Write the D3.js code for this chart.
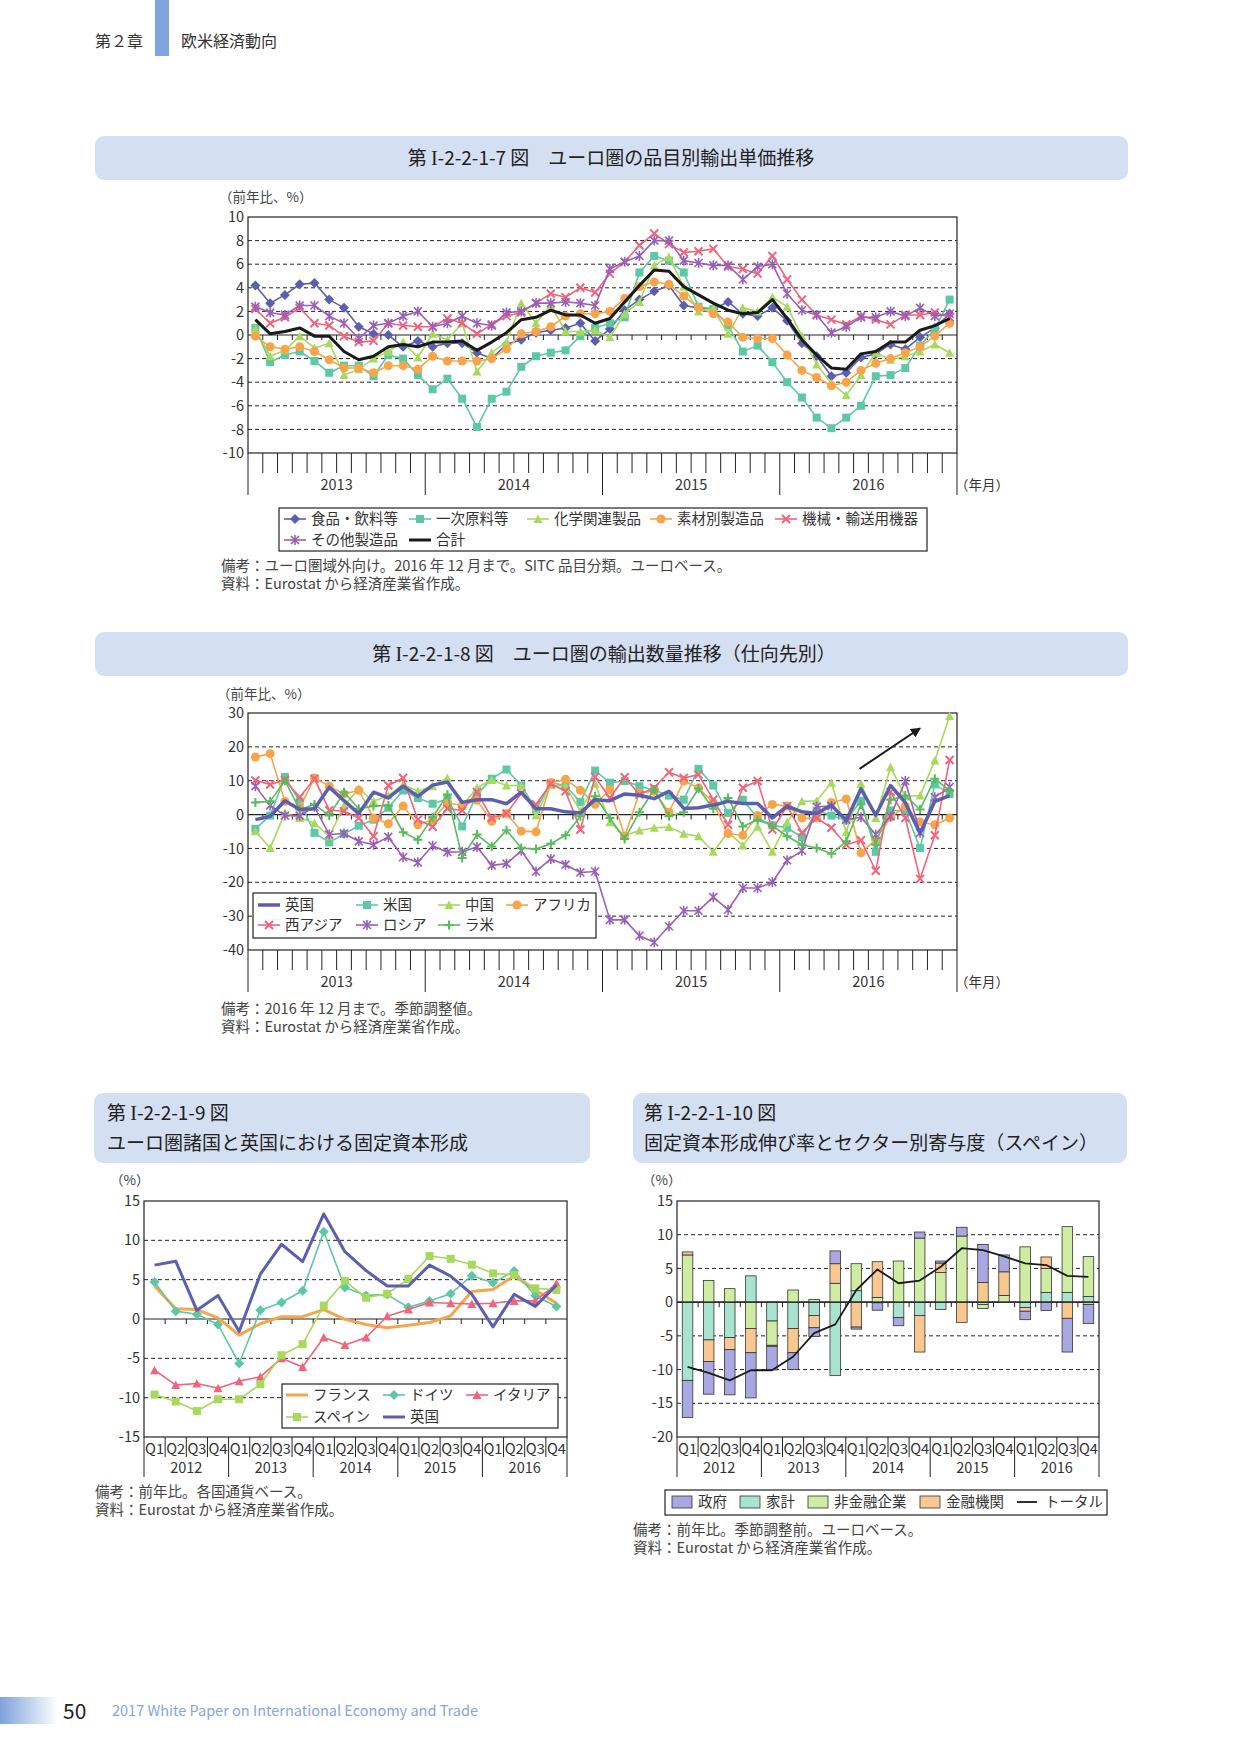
<!DOCTYPE html>
<html>
<head>
<meta charset="utf-8">
<script src="https://cdn.jsdelivr.net/npm/d3@7"></script>
<style>
body { margin: 0; background: #fff; }
svg text { font-family: "Noto Sans CJK JP", "Noto Sans", sans-serif; fill: #333; }
</style>
</head>
<body>
<svg id="page" width="1241" height="1754"></svg>
<script>
// ---- data: chart 7 (export unit price by product, monthly 2013-01..2016-12)
var years4 = ["2013", "2014", "2015", "2016"];
var priceFood = [4.2, 2.7, 3.4, 4.3, 4.4, 3.0, 2.3, 0.7, 0.1, 0.0, -1.0, -0.5, -1.0, -0.7, -0.7, -1.5, -2.0, -0.8, -0.4, 0.2, 0.4, 0.6, 1.0, -0.5,
  0.5, 2.1, 3.0, 3.7, 4.2, 2.5, 2.3, 2.2, 2.8, 1.8, 1.6, 2.3, 1.2, -0.7, -1.8, -3.5, -3.2, -1.9, -1.6, -0.8, -1.2, -0.2, 0.6, 1.8];
var pricePrimary = [0.6, -2.3, -1.7, -1.4, -2.2, -3.2, -2.6, -2.6, -3.5, -1.7, -2.0, -3.4, -4.6, -3.7, -5.4, -7.8, -5.4, -4.8, -2.7, -1.8, -1.5, -1.3, -0.1, 0.6,
  1.0, 1.5, 5.3, 6.7, 6.3, 5.3, 2.4, 2.2, 0.8, -1.4, -0.9, -2.3, -4.0, -5.3, -7.0, -7.9, -7.0, -6.0, -3.5, -3.4, -2.8, -0.9, 0.5, 3.0];
var priceChem = [0.5, -1.8, -1.3, -0.1, -1.1, -0.7, -3.4, -2.9, -2.0, -1.4, -0.6, -1.9, 0.1, -0.4, 1.0, -3.1, -1.5, -0.6, 2.7, 1.0, 2.5, 0.3, 0.3, 0.4,
  -0.2, 1.8, 2.8, 5.9, 6.6, 4.1, 2.0, 2.2, 0.1, 2.3, 2.0, 3.2, 2.4, -0.1, -2.5, -4.1, -5.1, -3.4, -1.5, -2.1, -1.8, -1.4, -0.8, -1.5];
var priceMaterial = [-0.1, -1.0, -1.2, -1.0, -1.4, -2.1, -2.8, -2.8, -3.2, -2.6, -2.6, -2.9, -1.8, -2.2, -2.2, -2.2, -2.0, -1.2, 0.1, 0.3, 0.7, 1.6, 1.8, 1.8,
  2.0, 3.1, 4.1, 4.5, 4.3, 3.3, 2.3, 1.8, 1.1, -0.2, -0.3, -0.3, -1.7, -3.0, -3.6, -4.3, -4.0, -3.0, -2.4, -2.0, -1.5, -1.0, -0.1, 1.0];
var priceMachine = [2.2, 1.0, 1.5, 2.3, 1.0, 0.8, -0.1, -0.6, -0.5, 1.0, 0.8, 0.7, 0.7, 1.4, 1.0, 0.1, 0.9, 1.6, 1.9, 2.7, 3.5, 3.2, 4.0, 3.6,
  5.2, 6.2, 7.6, 8.6, 7.7, 7.0, 7.1, 7.3, 5.8, 5.6, 5.2, 6.7, 4.7, 3.0, 1.7, 1.3, 0.9, 1.6, 1.3, 0.9, 1.7, 1.7, 1.9, 1.5];
var priceOther = [2.4, 1.9, 1.7, 2.5, 2.5, 1.6, 1.0, -0.3, 0.8, 1.0, 1.6, 2.0, 0.7, 1.0, 1.6, 1.0, 0.8, 1.9, 2.0, 2.7, 2.7, 2.8, 2.7, 2.5,
  5.6, 6.2, 6.7, 8.0, 8.0, 6.3, 6.1, 5.9, 5.9, 4.7, 5.8, 6.0, 3.5, 2.1, 1.7, 0.2, 0.7, 1.5, 1.5, 2.0, 1.6, 2.3, 1.6, 1.8];
var priceTotal = [1.3, 0.1, 0.3, 0.6, -0.1, -0.1, -1.4, -2.1, -1.8, -1.0, -0.8, -1.0, -0.6, -0.6, -0.5, -1.3, -0.6, 0.2, 1.3, 1.5, 2.1, 1.7, 1.7, 1.0,
  1.4, 2.8, 4.2, 5.5, 5.4, 4.1, 3.4, 2.7, 2.1, 1.8, 1.9, 3.0, 1.4, -0.4, -1.7, -2.8, -2.9, -1.6, -1.4, -0.6, -0.6, 0.4, 0.8, 1.4];
var priceTicks = [10, 8, 6, 4, 2, 0, -2, -4, -6, -8, -10];

// ---- data: chart 8 (export volume by destination)
var volUK = [-1.5, -0.5, 4.1, 1.5, 1.7, 8.1, 4.1, 0.3, 6.6, 4.9, 8.4, 5.4, 8.7, 9.6, 3.6, 4.4, 4.4, 3.2, 6.6, 1.7, 1.7, 0.8, 0.5, 4.4,
  4.1, 6.1, 5.7, 4.7, 6.9, 1.8, 2.0, 2.8, 3.9, 3.3, 3.3, -1.0, 2.5, 0.8, 0.3, 2.8, -1.8, 7.6, -0.2, 8.6, 3.5, -5.6, 3.9, 5.6];
var volUS = [-4.2, -0.3, 11.1, 3.9, -5.4, -8.2, -5.7, -3.3, -1.5, 2.0, 7.1, 4.9, 3.2, 4.6, -3.5, 5.9, 10.6, 13.3, 8.6, 1.5, 9.4, 8.6, 3.7, 13.0,
  9.4, 9.9, 8.4, 7.2, 5.6, 4.4, 13.5, 8.6, 0.5, 4.4, -1.0, -3.2, -3.9, -6.7, 1.2, -0.3, -1.7, 4.1, -11.0, 1.2, 1.2, -9.9, 8.9, 6.1];
var volChina = [-4.9, -9.9, 0.5, -1.0, -2.5, -6.4, 2.5, 7.6, 3.9, 5.6, 8.9, 6.9, 8.4, 10.8, 2.5, 7.9, 10.2, 8.6, 8.6, -0.2, 8.7, 8.4, 1.0, 9.1,
  -2.3, -6.2, -4.7, -3.9, -3.7, -5.7, -6.4, -11.0, -5.2, -9.1, -3.5, -11.0, -2.3, 3.9, 4.1, 9.4, -5.2, 9.1, -1.0, 14.0, 5.4, 5.6, 16.0, 29.1];
var volAfrica = [17.0, 18.0, 3.9, 2.0, 10.8, 8.4, 6.1, 7.2, -1.0, -2.7, 2.5, -3.0, -1.5, 3.5, 2.7, 4.2, -2.0, 0.3, -4.9, -5.1, 9.4, 10.4, 7.2, 3.0,
  7.4, -6.4, 6.4, 6.9, 0.7, 9.9, 7.9, 3.5, -5.6, -6.1, -0.3, 3.0, 2.5, -1.0, -1.0, 3.6, 4.6, -11.3, -7.4, -0.8, 2.5, -2.2, -3.0, -1.0];
var volWAsia = [10.1, 8.9, 10.2, 5.1, 10.6, 1.3, 1.0, -1.0, -6.4, 8.6, 10.8, -1.5, -3.6, 1.8, 1.2, 6.7, -1.0, 0.3, 6.2, 3.0, 9.1, 6.9, -4.4, 11.1,
  4.9, 11.0, 5.9, 7.9, 12.5, 10.8, 11.8, 4.4, -3.0, 7.9, 9.9, -4.4, 2.5, -5.4, -1.0, -3.9, -8.9, -7.6, -16.6, 6.7, -1.0, -19.0, -6.1, 16.1];
var volRussia = [8.4, 2.7, -0.3, -0.3, 2.3, -5.9, -5.6, -7.9, -8.9, -6.6, -12.6, -14.1, -9.2, -11.1, -11.0, -9.6, -15.0, -14.5, -10.7, -16.8, -13.1, -14.8, -17.1, -16.8,
  -31.1, -31.1, -35.8, -37.7, -33.0, -28.4, -28.4, -24.4, -28.1, -21.7, -21.7, -20.0, -13.5, -10.7, 2.3, 2.5, -1.5, -0.8, -5.9, -0.5, 9.9, -5.4, 5.1, 8.1];
var volLatAm = [3.6, 3.9, 10.0, 1.5, 3.0, -0.3, 6.6, 1.7, 2.5, 2.7, -5.2, -7.4, -0.8, 5.9, -12.8, -5.9, -9.4, -4.6, -9.9, -10.2, -8.6, -6.1, -0.5, 5.4,
  -1.0, -7.2, 0.7, 7.4, -0.5, 0.7, 7.7, 1.7, 4.9, -3.5, -1.5, -3.3, -6.4, -8.9, -9.9, -11.6, -7.9, 3.0, -8.9, 4.4, 5.6, 1.5, 10.6, 7.1];
var volTicks = [30, 20, 10, 0, -10, -20, -30, -40];
var arrowFrom = [40.9, 13.5], arrowTo = [45.0, 25.5]; // [month index, value]

// ---- data: chart 9 (gross fixed capital formation, quarterly 2012Q1..2016Q4)
var years5 = ["2012", "2013", "2014", "2015", "2016"];
var quarterNames = ["Q1", "Q2", "Q3", "Q4"];
var gfcfFrance = [4.2, 1.3, 1.2, 0.15, -2.05, -0.6, 0.3, 0.3, 1.2, -0.05, -0.7, -1.1, -0.8, -0.45, 0.4, 3.5, 3.75, 5.5, 3.7, 2.0];
var gfcfGermany = [4.7, 1.0, 0.6, -0.7, -5.65, 1.1, 2.1, 3.6, 11.1, 4.0, 3.0, 3.1, 1.5, 2.3, 3.2, 5.5, 4.6, 6.1, 2.95, 1.6];
var gfcfItaly = [-6.5, -8.4, -8.2, -8.8, -7.9, -7.35, -5.0, -6.1, -2.35, -3.3, -2.35, 0.35, 1.2, 2.1, 2.0, 1.9, 2.0, 2.3, 2.3, 4.5];
var gfcfSpain = [-9.6, -10.5, -11.7, -10.2, -10.2, -8.3, -4.6, -3.2, 1.7, 4.85, 2.7, 3.2, 5.1, 8.0, 7.65, 6.9, 5.8, 5.6, 3.9, 3.7];
var gfcfUK = [6.85, 7.35, 1.1, 3.0, -1.6, 5.7, 9.5, 7.3, 13.35, 8.55, 6.15, 4.2, 4.2, 6.85, 5.45, 3.15, -1.0, 3.15, 1.6, 4.3];
var gfcfTicks = [15, 10, 5, 0, -5, -10, -15];

// ---- data: chart 10 (Spain, contributions by sector)
var secGov = [-5.5, -4.85, -6.7, -6.7, -3.5, -2.5, -1.3, 1.9, -0.3, -1.1, -1.2, 0.9, 0.3, 1.3, 5.66, 2.5, -1.25, -1.24, -5.0, -2.8];
var secHousehold = [-11.6, -5.6, -5.25, 3.9, -2.8, -3.9, -2.0, -10.9, 1.7, -0.1, -2.3, -2.0, -1.1, 0, -0.35, 0, -0.8, 1.45, 1.45, 0.85];
var secNonFin = [7.0, 3.2, 2.0, -3.9, -3.6, 1.8, 0.4, 2.8, 4.0, 0.7, 6.1, 9.5, 4.4, 9.8, -0.6, 1.0, 8.2, 3.55, 9.75, 5.9];
var secFin = [0.45, -3.2, -1.8, -3.6, -0.15, -3.6, -1.8, 2.9, -3.7, 5.3, 0, -5.4, 1.4, -3.0, 2.9, 3.5, -0.55, 1.7, -2.4, -0.35];
var secTotal = [-9.6, -10.5, -11.6, -10.1, -10.1, -8.1, -4.6, -3.3, 1.8, 4.85, 2.8, 3.2, 5.25, 8.0, 7.7, 6.8, 5.75, 5.5, 3.9, 3.75];
var secTicks = [15, 10, 5, 0, -5, -10, -15, -20];

var C = {
  blue: "#5c5fae", teal: "#5dc8a6", lgreen: "#a6d95c", orange: "#f7a54b",
  pink: "#f0647c", purple: "#9a5fb7", green: "#58bb5c", black: "#1a1a1a"
};

var svg = d3.select("#page");
var months = d3.range(48);
var quarters = d3.range(20);

// ---- page header / footer
svg.append("text").attr("x", 95).attr("y", 47).style("font-size", "16px").text("第２章");
svg.append("rect").attr("x", 155).attr("y", 0).attr("width", 14).attr("height", 56).attr("fill", "#7fa3dd");
svg.append("text").attr("x", 181).attr("y", 47).style("font-size", "16px").text("欧米経済動向");

var defs = svg.append("defs");
var grad = defs.append("linearGradient").attr("id", "footgrad");
grad.append("stop").attr("offset", "0%").attr("stop-color", "#7ea2dc");
grad.append("stop").attr("offset", "100%").attr("stop-color", "#ffffff");
defs.append("marker").attr("id", "arrowhead").attr("viewBox", "0 0 10 10")
    .attr("refX", 9).attr("refY", 5).attr("markerWidth", 5).attr("markerHeight", 5)
    .attr("orient", "auto").attr("markerUnits", "strokeWidth")
  .append("path").attr("d", "M0,0L10,5L0,10Z").attr("fill", "#1a1a1a");

svg.append("rect").attr("x", 0).attr("y", 1697).attr("width", 58).attr("height", 27).attr("fill", "url(#footgrad)");
svg.append("text").attr("x", 63).attr("y", 1719).style("font-size", "21px").style("fill", "#222").text("50");
svg.append("text").attr("x", 112).attr("y", 1716).style("font-size", "14.5px").style("fill", "#86a6dc")
    .text("2017 White Paper on International Economy and Trade");

function headerBox(x, y, w, h) {
  svg.append("rect").attr("x", x).attr("y", y).attr("width", w).attr("height", h)
      .attr("rx", 9).attr("fill", "#d5dff2");
}

// figure number "第 I-2-2-1-n 図" with a serif roman I, then the rest
function figTitle(x, y, anchor, num, rest) {
  var t = svg.append("text").attr("x", x).attr("y", y).attr("text-anchor", anchor)
      .style("font-size", "19px").style("fill", "#222");
  t.append("tspan").text("第 ");
  t.append("tspan").style("font-family", "'Liberation Serif', serif").style("font-size", "20px").text("I");
  t.append("tspan").text("-2-2-1-" + num + " 図" + rest);
  return t;
}

function note(x, y, lines) {
  lines.forEach(function(t, i) {
    svg.append("text").attr("x", x).attr("y", y + i * 18).style("font-size", "14.5px").style("fill", "#444").text(t);
  });
}

function markerPath(type, s) {
  var h = s / 2;
  switch (type) {
    case "diamond": return "M0," + (-h - 1) + "L" + (h + 1) + ",0L0," + (h + 1) + "L" + (-h - 1) + ",0Z";
    case "square": return "M" + (-h) + "," + (-h) + "h" + s + "v" + s + "h" + (-s) + "Z";
    case "triangle": return "M0," + (-h - 0.5) + "L" + (h + 0.5) + "," + h + "L" + (-h - 0.5) + "," + h + "Z";
    case "circle": return d3.symbol().type(d3.symbolCircle).size(Math.PI * h * h)();
    case "x": return "M" + (-h) + "," + (-h) + "L" + h + "," + h + "M" + (-h) + "," + h + "L" + h + "," + (-h);
    case "star": return "M" + (-h) + "," + (-h) + "L" + h + "," + h + "M" + (-h) + "," + h + "L" + h + "," + (-h) + "M0," + (-h - 1) + "V" + (h + 1);
    case "plus": return "M" + (-h) + ",0H" + h + "M0," + (-h) + "V" + h;
  }
  return "";
}
var filledMarkers = {diamond: 1, square: 1, triangle: 1, circle: 1};

function drawMarker(g, type, s, color, cx, cy) {
  var p = g.append("path").attr("d", markerPath(type, s)).attr("transform", "translate(" + cx + "," + cy + ")");
  if (filledMarkers[type]) p.attr("fill", color);
  else p.attr("fill", "none").attr("stroke", color).attr("stroke-width", type === "star" ? 1.6 : 2);
}

// frame, grid, y labels and zero ticks shared by all four charts
function plotFrame(o) {
  var g = svg.append("g");
  var x = d3.scaleBand().domain(o.cats).range([o.left, o.right]);
  var y = d3.scaleLinear().domain(o.yDomain).range([o.bottom, o.top]);

  g.selectAll(".grid").data(o.ticks.filter(function(t) { return t !== 0 && t !== o.yDomain[0] && t !== o.yDomain[1]; }))
    .enter().append("line")
      .attr("x1", o.left).attr("x2", o.right)
      .attr("y1", function(d) { return y(d); }).attr("y2", function(d) { return y(d); })
      .attr("stroke", "#222").attr("stroke-width", 1).attr("stroke-dasharray", "4,3");

  var ax = g.append("g").attr("transform", "translate(" + (o.left - 4) + ",0)")
      .call(d3.axisLeft(y).tickValues(o.ticks).tickSize(0).tickPadding(0)
        .tickFormat(function(d) { return String(d); }));
  ax.select(".domain").remove();
  ax.selectAll("text").style("font-size", "14.5px").style("fill", "#333")
      .style("font-family", "'Noto Sans CJK JP', sans-serif");

  g.append("line").attr("x1", o.left).attr("x2", o.right).attr("y1", y(0)).attr("y2", y(0))
      .attr("stroke", "#222").attr("stroke-width", 1.2);
  g.selectAll(".zt").data(d3.range(1, o.cats.length)).enter().append("line")
      .attr("x1", function(i) { return o.left + i * x.step(); })
      .attr("x2", function(i) { return o.left + i * x.step(); })
      .attr("y1", y(0)).attr("y2", y(0) + 5)
      .attr("stroke", "#222").attr("stroke-width", 1);

  g.append("rect").attr("x", o.left).attr("y", o.top).attr("width", o.right - o.left)
      .attr("height", o.bottom - o.top).attr("fill", "none").attr("stroke", "#222").attr("stroke-width", 1.2);

  svg.append("text").attr("x", o.unitX).attr("y", o.unitY).style("font-size", "13.5px").style("fill", "#444").text(o.unit);
  return {g: g, x: x, y: y};
}

function monthAxis(f, o) {
  var g = f.g;
  d3.range(0, 49).forEach(function(i) {
    var xx = o.left + i * f.x.step();
    var long = i % 12 === 0;
    g.append("line").attr("x1", xx).attr("x2", xx).attr("y1", o.bottom)
        .attr("y2", o.bottom + (long ? 42 : 20)).attr("stroke", "#222").attr("stroke-width", 1);
  });
  years4.forEach(function(yr, k) {
    g.append("text").attr("x", o.left + (k * 12 + 6) * f.x.step()).attr("y", o.bottom + 37)
        .attr("text-anchor", "middle").style("font-size", "14.5px").text(yr);
  });
  g.append("text").attr("x", o.right - 2).attr("y", o.bottom + 37).style("font-size", "13.5px").text("（年月）");
}

function quarterAxis(f, o) {
  var g = f.g;
  d3.range(0, 21).forEach(function(i) {
    var xx = o.left + i * f.x.step();
    var long = i % 4 === 0;
    g.append("line").attr("x1", xx).attr("x2", xx).attr("y1", o.bottom)
        .attr("y2", o.bottom + (long ? 40 : 20)).attr("stroke", "#222").attr("stroke-width", 1);
  });
  quarters.forEach(function(q) {
    g.append("text").attr("x", f.x(q) + f.x.bandwidth() / 2).attr("y", o.bottom + 17)
        .attr("text-anchor", "middle").style("font-size", "14px").attr("textLength", 19)
        .attr("lengthAdjust", "spacingAndGlyphs").text(quarterNames[q % 4]);
  });
  years5.forEach(function(yr, k) {
    g.append("text").attr("x", o.left + (k * 4 + 2) * f.x.step()).attr("y", o.bottom + 36)
        .attr("text-anchor", "middle").style("font-size", "14.5px").text(yr);
  });
}

function drawSeries(f, s) {
  var x = f.x, y = f.y;
  var cx = function(i) { return x(i) + x.bandwidth() / 2; };
  var line = d3.line().x(function(d, i) { return cx(i); }).y(function(d) { return y(d); });
  f.g.append("path").datum(s.values).attr("d", line).attr("fill", "none")
      .attr("stroke", s.color).attr("stroke-width", s.width || 1.6).attr("stroke-linejoin", "round");
  if (s.marker) {
    s.values.forEach(function(v, i) { drawMarker(f.g, s.marker, s.size || 8, s.color, cx(i), y(v)); });
  }
}

function legendItem(s, x, y) {
  svg.append("line").attr("x1", x).attr("x2", x + 22).attr("y1", y).attr("y2", y)
      .attr("stroke", s.color).attr("stroke-width", s.width || 1.6);
  if (s.marker) drawMarker(svg, s.marker, s.size || 8, s.color, x + 11, y);
  svg.append("text").attr("x", x + 27).attr("y", y + 5).style("font-size", "14.5px").text(s.name);
}

function legendBox(x, y, w, h) {
  svg.append("rect").attr("x", x).attr("y", y).attr("width", w).attr("height", h)
      .attr("fill", "#fff").attr("stroke", "#222").attr("stroke-width", 1.2);
}

// ================= chart 7
headerBox(95, 136, 1033, 44);
figTitle(611, 165, "middle", "7", "　ユーロ圏の品目別輸出単価推移");

var o7 = {cats: months, left: 248, right: 957, top: 217, bottom: 453, yDomain: [-10, 10], ticks: priceTicks,
  unit: "（前年比、%）", unitX: 219, unitY: 202};
var f7 = plotFrame(o7);
monthAxis(f7, o7);
var s7 = [
  {name: "食品・飲料等", values: priceFood, color: C.blue, marker: "diamond", size: 8},
  {name: "一次原料等", values: pricePrimary, color: C.teal, marker: "square", size: 8},
  {name: "化学関連製品", values: priceChem, color: C.lgreen, marker: "triangle", size: 8},
  {name: "素材別製造品", values: priceMaterial, color: C.orange, marker: "circle", size: 9},
  {name: "機械・輸送用機器", values: priceMachine, color: C.pink, marker: "x", size: 8},
  {name: "その他製造品", values: priceOther, color: C.purple, marker: "star", size: 8},
  {name: "合計", values: priceTotal, color: C.black, width: 3}
];
s7.forEach(function(s) { drawSeries(f7, s); });

legendBox(279, 508, 648, 43);
legendItem(s7[0], 284, 519);
legendItem(s7[1], 409, 519);
legendItem(s7[2], 527, 519);
legendItem(s7[3], 650, 519);
legendItem(s7[4], 775, 519);
legendItem(s7[5], 284, 540);
legendItem(s7[6], 409, 540);
note(221, 571, ["備考：ユーロ圏域外向け。2016 年 12 月まで。SITC 品目分類。ユーロベース。", "資料：Eurostat から経済産業省作成。"]);

// ================= chart 8
headerBox(95, 632, 1033, 44);
figTitle(604, 661, "middle", "8", "　ユーロ圏の輸出数量推移（仕向先別）");

var o8 = {cats: months, left: 248, right: 957, top: 713, bottom: 950, yDomain: [-40, 30], ticks: volTicks,
  unit: "（前年比、%）", unitX: 217, unitY: 699};
var f8 = plotFrame(o8);
monthAxis(f8, o8);
var s8 = [
  {name: "英国", values: volUK, color: C.blue, width: 3.5},
  {name: "米国", values: volUS, color: C.teal, marker: "square", size: 8},
  {name: "中国", values: volChina, color: C.lgreen, marker: "triangle", size: 8},
  {name: "アフリカ", values: volAfrica, color: C.orange, marker: "circle", size: 9},
  {name: "西アジア", values: volWAsia, color: C.pink, marker: "x", size: 8},
  {name: "ロシア", values: volRussia, color: C.purple, marker: "star", size: 8},
  {name: "ラ米", values: volLatAm, color: C.green, marker: "plus", size: 9}
];
[1, 2, 3, 4, 5, 6, 0].forEach(function(k) { drawSeries(f8, s8[k]); });

var mx = function(i) { return f8.x(0) + f8.x.bandwidth() / 2 + i * f8.x.step(); };
f8.g.append("line").attr("x1", mx(arrowFrom[0])).attr("y1", f8.y(arrowFrom[1]))
    .attr("x2", mx(arrowTo[0])).attr("y2", f8.y(arrowTo[1]))
    .attr("stroke", "#1a1a1a").attr("stroke-width", 2).attr("marker-end", "url(#arrowhead)");

legendBox(253, 893, 343, 45);
legendItem(s8[0], 258, 905);
legendItem(s8[1], 356, 905);
legendItem(s8[2], 438, 905);
legendItem(s8[3], 506, 905);
legendItem(s8[4], 258, 925);
legendItem(s8[5], 356, 925);
legendItem(s8[6], 438, 925);
note(221, 1014, ["備考：2016 年 12 月まで。季節調整値。", "資料：Eurostat から経済産業省作成。"]);

// ================= chart 9
headerBox(94, 1093, 496, 70);
figTitle(107, 1120, "start", "9", "");
svg.append("text").attr("x", 107).attr("y", 1150).style("font-size", "19px").style("fill", "#222").text("ユーロ圏諸国と英国における固定資本形成");

var o9 = {cats: quarters, left: 144, right: 567, top: 1201, bottom: 1437, yDomain: [-15, 15], ticks: gfcfTicks,
  unit: "（%）", unitX: 110, unitY: 1185};
var f9 = plotFrame(o9);
quarterAxis(f9, o9);
var s9 = [
  {name: "フランス", values: gfcfFrance, color: C.orange, width: 3},
  {name: "ドイツ", values: gfcfGermany, color: C.teal, marker: "diamond", size: 8},
  {name: "イタリア", values: gfcfItaly, color: C.pink, marker: "triangle", size: 8},
  {name: "スペイン", values: gfcfSpain, color: C.lgreen, marker: "square", size: 8},
  {name: "英国", values: gfcfUK, color: C.blue, width: 3}
];
s9.forEach(function(s) { drawSeries(f9, s); });

legendBox(282, 1384, 276, 44);
legendItem(s9[0], 286, 1395);
legendItem(s9[1], 383, 1395);
legendItem(s9[2], 466, 1395);
legendItem(s9[3], 286, 1417);
legendItem(s9[4], 383, 1417);
note(95, 1497, ["備考：前年比。各国通貨ベース。", "資料：Eurostat から経済産業省作成。"]);

// ================= chart 10
headerBox(633, 1093, 494, 70);
figTitle(644, 1120, "start", "10", "");
svg.append("text").attr("x", 644).attr("y", 1150).style("font-size", "19px").style("fill", "#222").text("固定資本形成伸び率とセクター別寄与度（スペイン）");

var o10 = {cats: quarters, left: 677, right: 1099, top: 1201, bottom: 1437, yDomain: [-20, 15], ticks: secTicks,
  unit: "（%）", unitX: 642, unitY: 1185};

var secKeys = ["hh", "nonfin", "fin", "gov"];
var secColor = {gov: "#aaa8e2", hh: "#a7e3cf", nonfin: "#cfeca3", fin: "#f8c890"};
var secName = {gov: "政府", hh: "家計", nonfin: "非金融企業", fin: "金融機関"};
var secRows = quarters.map(function(q) {
  return {q: q, gov: secGov[q], hh: secHousehold[q], nonfin: secNonFin[q], fin: secFin[q]};
});
var stacked = d3.stack().keys(secKeys).offset(d3.stackOffsetDiverging)(secRows);

var f10 = plotFrame(o10);
var xb = d3.scaleBand().domain(quarters).range([o10.left, o10.right]).paddingInner(0.5).paddingOuter(0.25);
f10.g.selectAll(".layer").data(stacked).enter().append("g")
    .attr("fill", function(d) { return secColor[d.key]; })
  .selectAll("rect").data(function(d) { return d; }).enter().append("rect")
    .attr("x", function(d) { return xb(d.data.q); })
    .attr("width", xb.bandwidth())
    .attr("y", function(d) { return f10.y(Math.max(d[0], d[1])); })
    .attr("height", function(d) { return Math.abs(f10.y(d[0]) - f10.y(d[1])); })
    .attr("stroke", "#333").attr("stroke-width", 0.8);
// redraw zero line over bars
f10.g.append("line").attr("x1", o10.left).attr("x2", o10.right).attr("y1", f10.y(0)).attr("y2", f10.y(0))
    .attr("stroke", "#222").attr("stroke-width", 1.2);
drawSeries(f10, {values: secTotal, color: "#1a1a1a", width: 1.8});
quarterAxis(f10, o10);

legendBox(665, 1490, 442, 25);
[["gov", 672], ["hh", 740], ["nonfin", 808], ["fin", 920]].forEach(function(it) {
  svg.append("rect").attr("x", it[1]).attr("y", 1496).attr("width", 20).attr("height", 12)
      .attr("fill", secColor[it[0]]).attr("stroke", "#333").attr("stroke-width", 0.8);
  svg.append("text").attr("x", it[1] + 26).attr("y", 1507).style("font-size", "14.5px").text(secName[it[0]]);
});
svg.append("line").attr("x1", 1017).attr("x2", 1037).attr("y1", 1502).attr("y2", 1502).attr("stroke", "#1a1a1a").attr("stroke-width", 1.8);
svg.append("text").attr("x", 1045).attr("y", 1507).style("font-size", "14.5px").text("トータル");
note(633, 1535, ["備考：前年比。季節調整前。ユーロベース。", "資料：Eurostat から経済産業省作成。"]);
</script>
</body>
</html>
